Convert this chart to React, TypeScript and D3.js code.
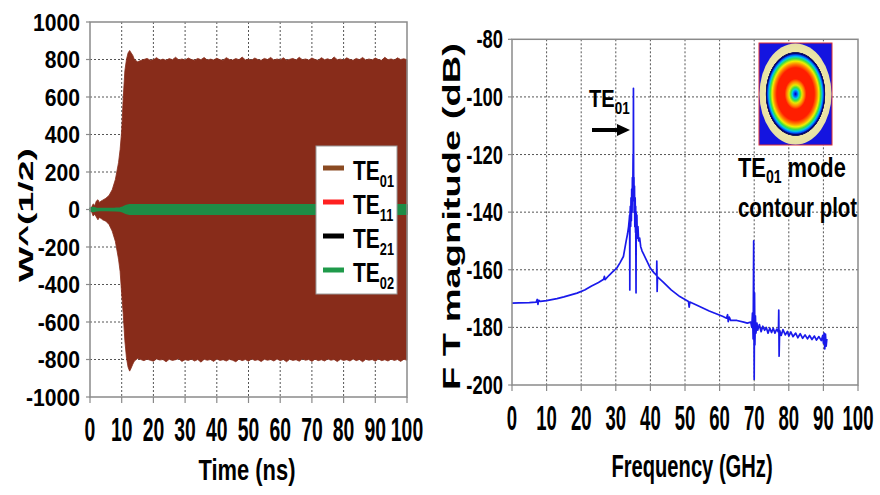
import React from 'react';
import * as d3 from 'd3';

// ---------- Left panel data ----------
const timeTicks = [0, 10, 20, 30, 40, 50, 60, 70, 80, 90, 100];
const wTicks = [-1000, -800, -600, -400, -200, 0, 200, 400, 600, 800, 1000];

// [time ns, upper envelope, lower envelope] of TE01
const te01Envelope: [number, number, number][] = [
  [0, 0, 0], [0.5, 12, -12], [1, 30, -35], [1.5, 22, -25], [2, 45, -40], [2.5, 52, -55],
  [3, 38, -42], [3.5, 45, -48], [4, 50, -55], [5, 60, -62], [6, 75, -80], [7, 105, -115],
  [8, 160, -170], [9, 250, -265], [9.5, 320, -330], [10, 420, -450], [10.5, 600, -560],
  [11, 740, -700], [11.5, 800, -790], [12, 835, -840], [12.5, 848, -862], [13, 835, -845],
  [13.5, 822, -825], [14, 800, -808], [15, 788, -795], [16, 795, -800], [17, 800, -806],
  [18, 806, -798], [19, 796, -804], [20, 799, -809], [21, 810, -797], [22, 797, -803],
  [23, 802, -800], [24, 796, -812], [25, 805, -799], [26, 799, -805], [27, 812, -801],
  [28, 798, -796], [29, 803, -810], [30, 797, -801], [31, 808, -805], [32, 800, -798],
  [33, 796, -808], [34, 806, -800], [35, 799, -814], [36, 811, -799], [37, 797, -804],
  [38, 802, -800], [39, 798, -810], [40, 807, -797], [41, 799, -805], [42, 796, -801],
  [43, 810, -808], [44, 800, -799], [45, 797, -804], [46, 805, -812], [47, 799, -798],
  [48, 813, -806], [49, 798, -800], [50, 802, -809], [51, 797, -797], [52, 808, -805],
  [53, 799, -801], [54, 796, -811], [55, 806, -799], [56, 800, -804], [57, 811, -800],
  [58, 797, -808], [59, 803, -797], [60, 798, -806], [61, 809, -800], [62, 796, -812],
  [63, 801, -799], [64, 806, -805], [65, 797, -801], [66, 812, -809], [67, 799, -797],
  [68, 803, -804], [69, 797, -800], [70, 808, -810], [71, 800, -798], [72, 796, -806],
  [73, 810, -801], [74, 799, -808], [75, 804, -797], [76, 797, -804], [77, 814, -800],
  [78, 799, -811], [79, 802, -799], [80, 797, -805], [81, 809, -801], [82, 800, -808],
  [83, 796, -797], [84, 806, -806], [85, 799, -800], [86, 811, -812], [87, 797, -799],
  [88, 803, -804], [89, 798, -800], [90, 808, -809], [91, 800, -797], [92, 796, -806],
  [93, 812, -801], [94, 799, -808], [95, 803, -798], [96, 797, -805], [97, 809, -800],
  [98, 800, -810], [99, 804, -799], [100, 799, -804],
];
const te02Envelope: [number, number, number][] = [
  [0, 6, -6], [1, 9, -9], [2, 6, -6], [3, 4, -4], [5, 4, -4], [8, 5, -5], [9.5, 7, -7],
  [10.5, 12, -12], [11.5, 20, -20], [12.5, 24, -24], [100, 24, -24],
];
const te21Envelope: [number, number, number][] = [
  [0, 8, -8], [0.7, 11, -11], [1.5, 8, -8], [2.5, 0, 0],
];
const te11Envelope: [number, number, number][] = [
  [0, 10, -10], [0.4, 12, -12], [1, 4, -4], [1.5, 0, 0],
];
const legendLabels = ['01', '11', '21', '02'];
const legendColors = ['#8a4a22', '#ff2020', '#000000', '#1f9a4a'];

// ---------- Right panel data ----------
const freqTicks = [0, 10, 20, 30, 40, 50, 60, 70, 80, 90, 100];
const dbTicks = [-200, -180, -160, -140, -120, -100, -80];
// [frequency GHz, FT magnitude dB]
const spectrum: [number, number][] = [
  [0, -171.6], [2, -171.5], [5, -171.4], [7, -171.2], [7.3, -170.3], [7.5, -172], [7.7, -170.6],
  [8.2, -171], [10, -170.7], [13, -170], [15, -169.4], [18.8, -168.1], [21, -167], [23, -165.6],
  [25, -164.4], [26.5, -163.3], [26.7, -162.3], [26.9, -163.4], [28, -162], [29, -160.8],
  [30.3, -159.4], [31.2, -157.6], [32.2, -155.4],
  [33.0, -150], [33.4, -147.5], [33.7, -145], [33.9, -142.5], [34.0, -141], [34.05, -167],
  [34.1, -141], [34.2, -138], [34.3, -145], [34.4, -135], [34.5, -143], [34.6, -132],
  [34.7, -140], [34.8, -128], [34.9, -136], [35.0, -120], [35.05, -130], [35.1, -97],
  [35.15, -125], [35.2, -135], [35.25, -128], [35.3, -140], [35.4, -131], [35.5, -145],
  [35.6, -135], [35.7, -147], [35.75, -138], [35.85, -168], [35.9, -140], [36.0, -148],
  [36.1, -141], [36.2, -149], [36.4, -145], [36.6, -150], [36.9, -149], [37.2, -152],
  [37.6, -153.5], [38, -154.5], [39, -157],
  [40, -159.5], [41, -161], [41.8, -162], [41.85, -157], [41.95, -167.5], [42.05, -162.5],
  [43.7, -164.3], [46, -167], [48.5, -169.3], [51, -171], [51.2, -173], [51.4, -171.2],
  [53.3, -172.2], [57, -174.3], [61, -176.2], [62, -176.8], [62.3, -175.6], [62.5, -178],
  [62.8, -176.4], [63.2, -177.6], [65, -177.6], [67, -178.2], [68, -178.5], [69, -178.2],
  [69.3, -180], [69.5, -175], [69.7, -184], [69.85, -150],
  [70.0, -198], [70.1, -168], [70.2, -186], [70.35, -176], [70.5, -182], [70.8, -178.5],
  [71, -181], [71.5, -179], [72, -181.5], [72.5, -179.6], [73, -181], [73.5, -180],
  [74, -182], [74.5, -180.2], [75, -181.8], [75.5, -180.3], [76, -182], [76.5, -180.6],
  [77.0, -181.6], [77.1, -174], [77.2, -190], [77.35, -181], [77.8, -182.8], [78.3, -180.8],
  [79, -182.6], [79.6, -181.4], [80, -183], [80.6, -181.6], [81.2, -183.2], [82, -182],
  [82.6, -183.6], [83.3, -182.2], [84, -183.8], [84.7, -182.6], [85.4, -184], [86, -182.8],
  [86.7, -184.2], [87.4, -183], [88, -184.4], [88.7, -183.2], [89.4, -184.6], [89.8, -182.8],
  [90, -185.5], [90.2, -182], [90.4, -187.5], [90.6, -182.3], [90.8, -186.5], [91, -184],
];

// ---------- helpers ----------
const FONT = "'Liberation Sans', Arial, Helvetica, sans-serif";

function CText(props: {
  x: number; y: number; sx?: number; size: number; anchor?: string; rotate?: number;
  children: React.ReactNode; fill?: string;
}) {
  const { x, y, sx = 1, size, anchor = 'middle', rotate = 0, children, fill = '#000' } = props;
  return (
    <text
      transform={`translate(${x},${y}) rotate(${rotate}) scale(${sx},1)`}
      textAnchor={anchor as any}
      fontSize={size}
      fontWeight="bold"
      fontFamily={FONT}
      fill={fill}
    >
      {children}
    </text>
  );
}

export default function App() {
  const xL = d3.scaleLinear().domain([0, 100]).range([90, 407]);
  const yL = d3.scaleLinear().domain([-1000, 1000]).range([397, 22]);
  const xR = d3.scaleLinear().domain([0, 100]).range([512, 858]);
  const yR = d3.scaleLinear().domain([-200, -80]).range([385, 39.3]);

  const area = d3
    .area<[number, number, number]>()
    .x((d) => xL(d[0]))
    .y0((d) => yL(d[2]))
    .y1((d) => yL(d[1]));

  const line = d3
    .line<[number, number]>()
    .x((d) => xR(d[0]))
    .y((d) => yR(d[1]));

  const grid = '#555';
  const border = '#8a8a8a';

  return (
    <svg
      width={880}
      height={495}
      style={{ position: 'absolute', left: 0, top: 0 }}
      xmlns="http://www.w3.org/2000/svg"
    >
      <defs>
        <radialGradient id="te01mode" cx="50%" cy="50%" r="50%">
          <stop offset="0" stopColor="#0000b0" />
          <stop offset="0.05" stopColor="#0060ff" />
          <stop offset="0.09" stopColor="#00d0e0" />
          <stop offset="0.13" stopColor="#40e040" />
          <stop offset="0.18" stopColor="#e8e800" />
          <stop offset="0.24" stopColor="#ff8a00" />
          <stop offset="0.30" stopColor="#ff1e00" />
          <stop offset="0.52" stopColor="#ff1e00" />
          <stop offset="0.59" stopColor="#ff8000" />
          <stop offset="0.65" stopColor="#f0f000" />
          <stop offset="0.70" stopColor="#40e040" />
          <stop offset="0.74" stopColor="#00c8e8" />
          <stop offset="0.775" stopColor="#0050ff" />
          <stop offset="0.80" stopColor="#000070" />
          <stop offset="0.825" stopColor="#202060" />
          <stop offset="0.835" stopColor="#ede6a6" />
          <stop offset="1" stopColor="#e6e0a6" />
        </radialGradient>
      </defs>
      <rect x={0} y={0} width={880} height={495} fill="#fff" />

      {/* ================= LEFT PANEL ================= */}
      <g>
        {timeTicks.slice(1, -1).map((t) => (
          <line key={'lv' + t} x1={xL(t)} x2={xL(t)} y1={yL(1000)} y2={yL(-1000)}
            stroke={grid} strokeWidth={1} strokeDasharray="2,2" />
        ))}
        {wTicks.slice(1, -1).map((w) => (
          <line key={'lh' + w} x1={xL(0)} x2={xL(100)} y1={yL(w)} y2={yL(w)}
            stroke={grid} strokeWidth={1} strokeDasharray="2,2" />
        ))}
        <path d={area(te01Envelope) || ''} fill="#882c1a" stroke="#882c1a" strokeWidth={0.8} />
        <path d={area(te11Envelope) || ''} fill="#ff2020" />
        <path d={area(te21Envelope) || ''} fill="#111" />
        <path d={area(te02Envelope) || ''} fill="#1e8c46" stroke="#1e8c46" strokeWidth={2}
          strokeLinejoin="round" />
        <rect x={xL(0)} y={yL(1000)} width={xL(100) - xL(0)} height={yL(-1000) - yL(1000)}
          fill="none" stroke={border} strokeWidth={1.5} />
        {timeTicks.map((t) => (
          <line key={'lxt' + t} x1={xL(t)} x2={xL(t)} y1={yL(-1000)} y2={yL(-1000) + 6}
            stroke={border} strokeWidth={1.2} />
        ))}
        {wTicks.map((w) => (
          <line key={'lyt' + w} x1={xL(0) - 4} x2={xL(0)} y1={yL(w)} y2={yL(w)}
            stroke={border} strokeWidth={1.2} />
        ))}
        {wTicks.map((w) => (
          <CText key={'lyl' + w} x={80} y={yL(w) + 8.5} size={24} sx={0.88} anchor="end">
            {String(w)}
          </CText>
        ))}
        {timeTicks.map((t) => (
          <CText key={'lxl' + t} x={xL(t)} y={441} size={34} sx={0.57}>
            {String(t)}
          </CText>
        ))}
        <CText x={247} y={480} size={30} sx={0.73}>Time (ns)</CText>
        <text
          transform="translate(33,215) rotate(-90)"
          textAnchor="middle"
          fontSize={21}
          fontWeight="bold"
          fontFamily={FONT}
          textLength={134}
          lengthAdjust="spacingAndGlyphs"
        >
          W^(1/2)
        </text>
        <rect x={316} y={146} width={81} height={148} fill="#fff" stroke="#9a9a9a" strokeWidth={1} />
        {legendLabels.map((lab, i) => {
          const ly = 168 + i * 34;
          return (
            <g key={'lg' + lab}>
              <line x1={323} x2={344} y1={ly} y2={ly} stroke={legendColors[i]} strokeWidth={5} />
              <CText x={353} y={ly + 12} size={28} sx={0.75} anchor="start">
                TE
                <tspan fontSize={17} dy={7}>{lab}</tspan>
              </CText>
            </g>
          );
        })}
      </g>

      {/* ================= RIGHT PANEL ================= */}
      <g>
        {freqTicks.slice(1, -1).map((f) => (
          <line key={'rv' + f} x1={xR(f)} x2={xR(f)} y1={yR(-80)} y2={yR(-200)}
            stroke={grid} strokeWidth={1} strokeDasharray="2,2" />
        ))}
        {dbTicks.slice(1, -1).map((v) => (
          <line key={'rh' + v} x1={xR(0)} x2={xR(100)} y1={yR(v)} y2={yR(v)}
            stroke={grid} strokeWidth={1} strokeDasharray="2,2" />
        ))}
        <path d={line(spectrum) || ''} fill="none" stroke="#1a1aeb" strokeWidth={1.7}
          strokeLinejoin="round" />
        <rect x={xR(0)} y={yR(-80)} width={xR(100) - xR(0)} height={yR(-200) - yR(-80)}
          fill="none" stroke={border} strokeWidth={1.5} />
        {freqTicks.map((f) => (
          <line key={'rxt' + f} x1={xR(f)} x2={xR(f)} y1={yR(-200)} y2={yR(-200) + 6}
            stroke={border} strokeWidth={1.2} />
        ))}
        {dbTicks.map((v) => (
          <line key={'ryt' + v} x1={xR(0) - 4} x2={xR(0)} y1={yR(v)} y2={yR(v)}
            stroke={border} strokeWidth={1.2} />
        ))}
        {dbTicks.map((v) => (
          <CText key={'ryl' + v} x={503} y={yR(v) + 9} size={25.5} sx={0.72} anchor="end">
            {String(v)}
          </CText>
        ))}
        {freqTicks.map((f) => (
          <CText key={'rxl' + f} x={xR(f)} y={430} size={35} sx={0.53}>
            {String(f)}
          </CText>
        ))}
        <CText x={692} y={477} size={32} sx={0.63}>Frequency (GHz)</CText>
        <text
          transform="translate(460,216.5) rotate(-90)"
          textAnchor="middle"
          fontSize={23}
          fontWeight="bold"
          fontFamily={FONT}
          textLength={347}
          lengthAdjust="spacingAndGlyphs"
        >
          F T magnitude (dB)
        </text>

        <CText x={589} y={107} size={24} sx={0.84} anchor="start">
          TE
          <tspan fontSize={16} dy={7}>01</tspan>
        </CText>
        <line x1={592} x2={620} y1={130} y2={130} stroke="#000" strokeWidth={4} />
        <path d="M617,124 L630,130 L617,136 Z" fill="#000" />

        <rect x={759} y={43} width={73} height={102} fill="#1414e0" stroke="#e03030" strokeWidth={1} />
        <ellipse cx={795.5} cy={94} rx={36} ry={50.5} fill="url(#te01mode)" />

        <CText x={738} y={177} size={28} sx={0.78} anchor="start">
          TE
          <tspan fontSize={18} dy={6}>01</tspan>
          <tspan dy={-6}> mode</tspan>
        </CText>
        <CText x={738} y={217} size={28} sx={0.73} anchor="start">contour plot</CText>
      </g>
    </svg>
  );
}
